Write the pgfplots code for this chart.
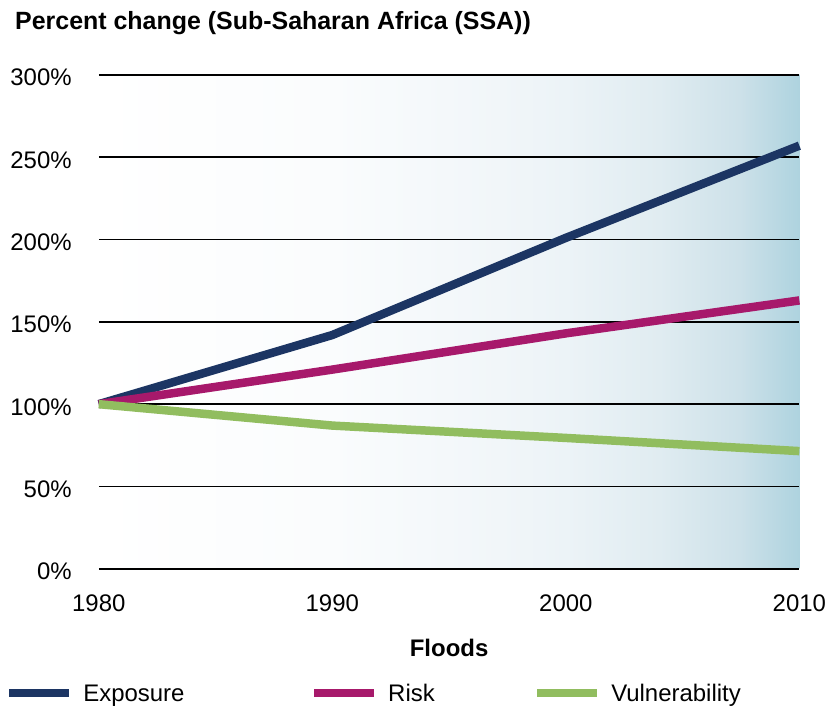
\documentclass[border=0pt]{standalone}
\usepackage{pgfplots}
\pgfplotsset{compat=1.18}
\usepackage{fontspec}
\setmainfont{Liberation Sans}

\definecolor{exposure}{RGB}{28,53,99}
\definecolor{risk}{RGB}{167,25,107}
\definecolor{vuln}{RGB}{145,189,95}

% background: white on the left, fading to pale blue at 2010
\pgfdeclarehorizontalshading{bgshade}{100bp}{%
  color(0bp)=(white);
  color(25bp)=(white);
  color(41.7bp)=(rgb,255:red,250;green,252;blue,253);
  color(53.6bp)=(rgb,255:red,241;green,246;blue,249);
  color(58.3bp)=(rgb,255:red,236;green,243;blue,247);
  color(65bp)=(rgb,255:red,224;green,236;blue,241);
  color(70.7bp)=(rgb,255:red,205;green,225;blue,233);
  color(75bp)=(rgb,255:red,174;green,211;blue,223);
  color(100bp)=(rgb,255:red,174;green,211;blue,223)}

\begin{document}
\begin{tikzpicture}[font=\fontsize{24bp}{28bp}\selectfont]
\begin{axis}[
  scale only axis,
  width=702bp, height=495bp,
  xmin=1980, xmax=2010,
  ymin=0, ymax=300,
  clip=false,
  axis background/.style={shade, shading=bgshade},
  axis line style={draw=none},
  major tick length=0pt,
  xtick={1980,1990,2000,2010},
  xticklabels={1980,1990,2000,2010},
  ytick={0,50,100,150,200,250,300},
  yticklabels={0\%,50\%,100\%,150\%,200\%,250\%,300\%},
  yticklabel style={anchor=base east, inner sep=0pt, xshift=-27bp, yshift=-11bp},
  xticklabel style={anchor=base, inner sep=0pt, yshift=-43bp},
  ymajorgrids,
  grid style={black, line width=1.5bp},
  xlabel={\bfseries Floods},
  xlabel style={at={(axis description cs:0.5,0)}, anchor=base, inner sep=0pt, yshift=-88bp},
  legend columns=3,
  legend cell align=left,
  legend style={draw=none, fill=none, inner sep=0pt, outer sep=0pt,
    column sep=0pt,
    at={(axis description cs:-0.1339,-0.2525)}, anchor=west,
    nodes={inner sep=0pt}},
  legend image code/.code={\draw[#1, line width=8.5bp, line cap=butt] (0bp,0.6bp) -- (60bp,0.6bp);},
  every axis plot/.append style={line width=8.5bp, line join=round},
]
\addplot[exposure] coordinates {(1980,100) (1990,142) (2000,201) (2010,257)};
\addlegendentry{\hspace*{10bp}\makebox[227bp][l]{Exposure}}
\addplot[risk] coordinates {(1980,100) (1990,121) (2000,143) (2010,163)};
\addlegendentry{\hspace*{10bp}\makebox[145bp][l]{Risk}}
\addplot[vuln] coordinates {(1980,100) (1990,87) (2000,79.5) (2010,71.5)};
\addlegendentry{\hspace*{10bp}Vulnerability}
\end{axis}
\node[anchor=base west, inner sep=0pt, font=\fontsize{25bp}{29bp}\selectfont\bfseries]
  at (-84bp,540bp) {Percent change (Sub-Saharan Africa (SSA))};
\path[use as bounding box] (-99bp,-137bp) rectangle (727bp,570bp);
\end{tikzpicture}
\end{document}
